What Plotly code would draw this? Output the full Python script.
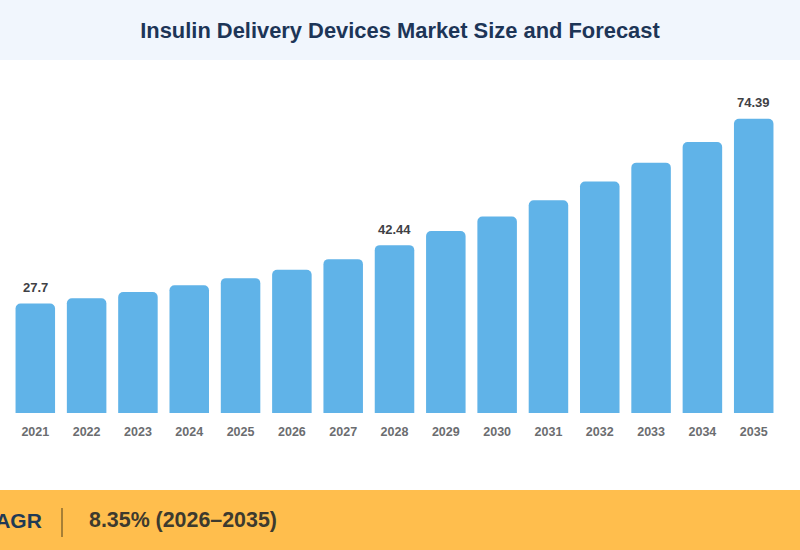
# Insulin delivery devices market size bar chart
import plotly.graph_objects as go

years = ['2021', '2022', '2023', '2024', '2025', '2026', '2027', '2028',
         '2029', '2030', '2031', '2032', '2033', '2034', '2035']
market_size = [27.7, 29.0, 30.6, 32.3, 34.1, 36.2, 38.9, 42.44,
               46.0, 49.7, 53.8, 58.5, 63.3, 68.5, 74.39]
labelled_years = ['2021', '2028', '2035']
labelled_values = [27.7, 42.44, 74.39]

title_text = 'Insulin Delivery Devices Market Size and Forecast'
cagr_label = 'CAGR'
cagr_value = '8.35% (2026–2035)'

FONT = 'Liberation Sans, Arial, sans-serif'

fig = go.Figure(go.Bar(
    x=years, y=market_size,
    width=0.77,
    marker=dict(color='#60B3E8', line=dict(width=0), cornerradius=5),
))

# value labels sit further above the bars than textposition='outside' allows
# numeric looking categories need the category index here, not the name
value_labels = [
    dict(text='<b>' + str(v) + '</b>', x=years.index(yr), y=v, xref='x', yref='y', yshift=16,
         xanchor='center', yanchor='middle', showarrow=False,
         font=dict(size=13, color='#3F4145', family=FONT))
    for yr, v in zip(labelled_years, labelled_values)
]

fig.update_layout(
    width=800, height=550,
    margin=dict(l=0, r=0, t=0, b=0),
    paper_bgcolor='white', plot_bgcolor='white',
    font=dict(family=FONT),
    showlegend=False,
    title=dict(text='<b>' + title_text + '</b>', x=0.5, xanchor='center',
               y=1 - 30.5 / 550, yanchor='middle', yref='paper',
               font=dict(size=21.9, color='#1D3557', family=FONT)),
    xaxis=dict(type='category', range=[-0.688, 14.902], domain=[0, 1],
               showgrid=False, zeroline=False, showline=False, ticks='outside',
               ticklen=7, tickcolor='rgba(0,0,0,0)',
               tickfont=dict(size=12.5, color='#6B6D70', family=FONT, weight='bold')),
    yaxis=dict(range=[0, 89.25], domain=[1 - 413 / 550, 1 - 60 / 550],
               visible=False),
    # header and footer bands
    shapes=[
        dict(type='rect', xref='paper', yref='paper', x0=0, x1=1,
             y0=1 - 60 / 550, y1=1, fillcolor='#F1F6FD', line=dict(width=0), layer='below'),
        dict(type='rect', xref='paper', yref='paper', x0=0, x1=1,
             y0=0, y1=60 / 550, fillcolor='#FFBE4D', line=dict(width=0), layer='below'),
        dict(type='line', xref='paper', yref='paper', x0=62 / 800, x1=62 / 800,
             y0=13 / 550, y1=42 / 550, line=dict(color='#8A6A2E', width=1.5)),
    ],
    annotations=value_labels + [
        dict(text='<b>' + cagr_label + '</b>', xref='paper', yref='paper',
             x=43.5 / 800, y=30 / 550, xanchor='right', yanchor='middle', showarrow=False,
             font=dict(size=21, color='#1F3A55', family=FONT)),
        dict(text='<b>' + cagr_value + '</b>', xref='paper', yref='paper',
             x=87 / 800, y=30 / 550, xanchor='left', yanchor='middle', showarrow=False,
             font=dict(size=21.4, color='#3D3A2E', family=FONT)),
    ],
)

fig.write_html('out.html', config=dict(displayModeBar=False),
               post_script="document.body.style.margin='0';")
